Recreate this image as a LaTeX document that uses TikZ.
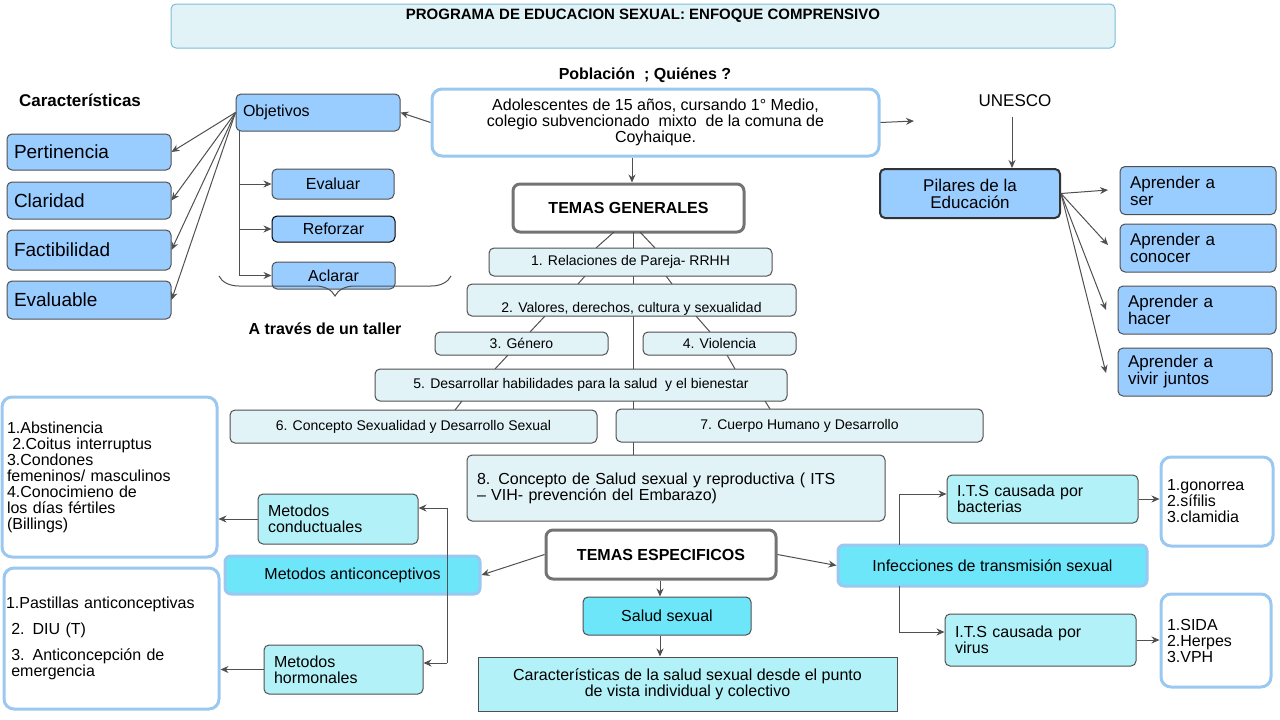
\documentclass[tikz,border=0pt]{standalone}
\usepackage{fontspec}
\setmainfont{Liberation Sans}
\usetikzlibrary{arrows.meta,decorations.pathreplacing}
\definecolor{bl}{HTML}{99CCFF}
\definecolor{tr}{HTML}{E2F3F8}
\definecolor{cy}{HTML}{B3F1F8}
\definecolor{cyd}{HTML}{6CE6F8}
\definecolor{obl}{HTML}{9AC8F0}
\definecolor{ln}{HTML}{505050}
\newcommand\fsz[1]{\fontsize{#1}{#1}\selectfont}
\begin{document}
\begin{tikzpicture}[x=1pt,y=-1pt,
 base/.style={draw=ln,rounded corners=5pt,line width=1pt,inner sep=3pt,align=center},
 bbox/.style={base,fill=bl},
 tbox/.style={base,fill=tr,font=\fsz{14}},
 cbox/.style={base,fill=cy,font=\fsz{16}},
 obox/.style={base,draw=obl,line width=3pt,fill=white,rounded corners=10pt},
 hbox/.style={base,draw=ln!80,line width=3pt,fill=white,rounded corners=7pt,font=\fsz{16}\bfseries},
 abox/.style={base,draw=obl,line width=3pt,fill=cyd,rounded corners=6pt,font=\fsz{16}},
 arr/.style={-{Stealth[length=8pt,width=7pt]},draw=ln,line width=1pt},
 ln/.style={draw=ln,line width=1pt}]
\useasboundingbox (0,0) rectangle (1280,720);
% title
\node[base,draw=cyan!50!teal!60,fill=tr,minimum width=944,minimum height=44] (title) at (643,26) {};
\node[font=\fsz{15}\bfseries] (tt) at (643,16) {PROGRAMA DE EDUCACION SEXUAL: ENFOQUE COMPRENSIVO};
\node[font=\fsz{16}\bfseries] (pq) at (645,75) {Población \ ; Quiénes ?};
\node[obox,minimum width=447,minimum height=67,font=\fsz{16}] (pop) at (655.5,122.5) {Adolescentes de 15 años, cursando 1° Medio,\\colegio subvencionado \ mixto \ de la comuna de\\Coyhaique.};
\node[font=\fsz{17}] (un) at (1015,101) {UNESCO};
\node[font=\fsz{17}\bfseries] (car) at (80,100) {Características};
% left
\node[bbox,minimum width=164,minimum height=37,font=\fsz{16},text width=150,align=left] (obj) at (318,112.5) {Objetivos};
\foreach \n/\t/\y/\h in {pe/Pertinencia/152/36,cl/Claridad/200.5/37,fa/Factibilidad/250/40,ev/Evaluable/300/38}
 \node[bbox,minimum width=164,minimum height=\h,font=\fsz{19},text width=150,align=left] (\n) at (89,\y) {\t};
\node[bbox,minimum width=122,minimum height=30,font=\fsz{16}] (e1) at (333,184) {Evaluar};
\node[bbox,draw=black,minimum width=123,minimum height=26,font=\fsz{16}] (e2) at (333.5,229) {Reforzar};
\node[bbox,minimum width=123,minimum height=27,font=\fsz{16}] (e3) at (333.5,275.5) {Aclarar};
\foreach \n in {pe,cl,fa,ev} \draw[arr] (obj.west) -- (\n.east);
\coordinate (vt) at (239,131); \coordinate (vb) at (239,275.5);
\draw[ln] (vt) -- (vb);
\draw[arr] (239,184) -- (e1.west);
\draw[arr] (239,229) -- (e2.west);
\draw[arr] (vb) -- (e3.west);
\coordinate (b1) at (451,276); \coordinate (b2) at (219,276);
\draw[ln,decorate,decoration={brace,amplitude=20pt}] (b1) -- (b2);
\node[font=\fsz{16}\bfseries] (tal) at (325,329) {A través de un taller};
\draw[arr] (pop.west) -- (obj.east);
\coordinate (pr) at (914,121);
\draw[arr] (pop.east) -- (pr);
% generales
\node[hbox,minimum width=231,minimum height=48] (tg) at (628.5,208) {TEMAS GENERALES};
\draw[arr] (pop.south -| 632,0) -- (tg.north -| 632,0);
\coordinate (vc1) at (633,232); \coordinate (vc2) at (633,455);
\draw[ln] (vc1) -- (vc2);
\draw[ln] (614,232) -- (596,248) (640,232) -- (655,248) (585,276) -- (578,284) (666,276) -- (672,284)
 (545,316) -- (530,332) (696,316) -- (710,332) (508,355) -- (495,369) (727,355) -- (735,369)
 (462,401) -- (455,410) (765,401) -- (770,409);
\node[tbox,minimum width=283,minimum height=28] (g1) at (630.5,262) {1. Relaciones de Pareja- RRHH};
\node[tbox,minimum width=329,minimum height=32] (g2) at (631.5,300) {};
\node[font=\fsz{14}] (g2t) at (631.5,309) {2. Valores, derechos, cultura y sexualidad};
\node[tbox,minimum width=173,minimum height=23] (g3) at (521.5,343.5) {3. Género};
\node[tbox,minimum width=153,minimum height=23] (g4) at (719.5,343.5) {4. Violencia};
\node[tbox,minimum width=412,minimum height=32] (g5) at (581,385) {5. Desarrollar habilidades para la salud \ y el bienestar};
\node[tbox,minimum width=367,minimum height=33] (g6) at (413.5,426.5) {6. Concepto Sexualidad y Desarrollo Sexual};
\node[tbox,minimum width=367,minimum height=33] (g7) at (799.5,425.5) {7. Cuerpo Humano y Desarrollo};
\node[tbox,minimum width=418,minimum height=66,font=\fsz{16},text width=398,align=left] (g8) at (676,488) {8. Concepto de Salud sexual y reproductiva ( ITS\\– VIH- prevención del Embarazo)};
% pilares
\node[bbox,line width=2pt,draw=black!80,minimum width=180,minimum height=49,font=\fsz{17}] (pil) at (970,193.5) {Pilares de la\\Educación};
\draw[arr] (un.south -| 1012,0) ++(0,6) -- (pil.north -| 1012,0);
\foreach \n/\t/\x/\y/\w in {a1/ser/1198/190.5/156,a2/conocer/1198/248/156,a3/hacer/1197/310/158,a4/vivir juntos/1195/372/154}
 \node[bbox,minimum width=\w,minimum height=48,font=\fsz{17},text width=\w-20,align=left] (\n) at (\x,\y) {Aprender a\\\t};
\draw[arr] (pil.east) -- (1108,190);
\draw[arr] (pil.east) -- (1108,245);
\draw[arr] (pil.east) -- (1106,310);
\draw[arr] (pil.east) -- (1106,373);
% especificos
\node[hbox,minimum width=230,minimum height=49] (te) at (661,554.5) {TEMAS ESPECIFICOS};
\node[abox,minimum width=255,minimum height=38] (ma) at (352.5,575) {Metodos anticonceptivos};
\node[cbox,minimum width=160,minimum height=50,text width=140,align=left] (mc) at (338,519) {Metodos\\conductuales};
\node[cbox,minimum width=159,minimum height=49,text width=139,align=left] (mh) at (343.5,669.5) {Metodos\\hormonales};
\node[obox,minimum width=215,minimum height=160,font=\fsz{16},text width=205,align=left,inner sep=2pt] (l1) at (109.5,477) {1.Abstinencia\\\ 2.Coitus interruptus\\3.Condones\\femeninos/ masculinos\\4.Conocimieno de\\los días fértiles\\(Billings)};
\node[obox,minimum width=215,minimum height=141,font=\fsz{16},text width=211,align=left,inner sep=2pt] (l2) at (111.5,638.5) {1.Pastillas anticonceptivas\\[10pt]\ 2. DIU (T)\\[10pt]\ 3. Anticoncepción de\\\ emergencia};
\coordinate (mt) at (447,508); \coordinate (mb) at (447,663);
\draw[ln] (mt) -- (mb);
\draw[arr] (mt) -- (mc.east |- mt);
\draw[arr] (mb) -- (mh.east |- mb);
\draw[arr] (mc.west) -- (l1.east |- mc.west);
\draw[arr] (mh.west) -- (l2.east |- mh.west);
\draw[arr] (te.west) -- (ma.east);
\node[base,fill=cyd,minimum width=168,minimum height=38,font=\fsz{16}] (ss) at (667,616) {Salud sexual};
\node[base,fill=cy,rounded corners=0pt,minimum width=419,minimum height=54,font=\fsz{16}] (cs) at (687.5,684) {Características de la salud sexual desde el punto\\de vista individual y colectivo};
\draw[arr] (te.south -| 660,0) -- (ss.north -| 660,0);
\draw[arr] (ss.south -| 660,0) -- (cs.north -| 660,0);
\node[abox,minimum width=309,minimum height=41] (inf) at (992.5,565.5) {Infecciones de transmisión sexual};
\draw[arr] (te.east) -- (inf.west);
\node[cbox,minimum width=191,minimum height=48,text width=171,align=left] (ib) at (1042.5,499) {I.T.S causada por\\bacterias};
\node[cbox,minimum width=191,minimum height=52,text width=171,align=left] (iv) at (1040.5,640) {I.T.S causada por\\virus};
\coordinate (it) at (899,494); \coordinate (ib2) at (899,632);
\draw[ln] (it) -- (899,545) (899,586) -- (ib2);
\draw[arr] (it) -- (ib.west |- it);
\draw[arr] (ib2) -- (iv.west |- ib2);
\node[obox,minimum width=112,minimum height=89,font=\fsz{16},text width=100,align=left,inner sep=2pt] (l3) at (1217,501.5) {1.gonorrea\\2.sífilis\\3.clamidia};
\node[obox,minimum width=110,minimum height=93,font=\fsz{16},text width=98,align=left,inner sep=2pt] (l4) at (1216,640.5) {1.SIDA\\2.Herpes\\3.VPH};
\draw[arr] (ib.east) -- (l3.west |- ib.east);
\draw[arr] (iv.east) -- (l4.west |- iv.east);
\end{tikzpicture}
\end{document}
